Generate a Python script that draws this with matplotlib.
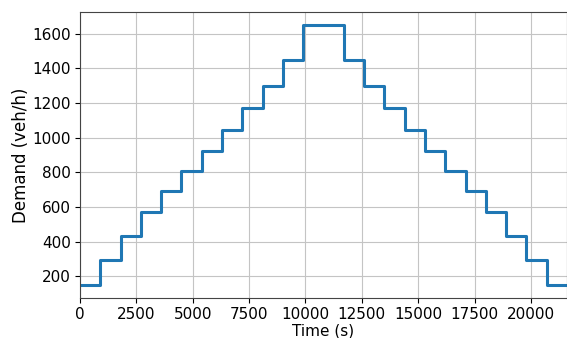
import matplotlib
matplotlib.use("Agg")
import matplotlib.pyplot as plt
import numpy as np

step_len = 900
demand = [150, 295, 435, 570, 692, 808, 925, 1045, 1170, 1300, 1450, 1650, 1650,
          1450, 1300, 1170, 1045, 925, 808, 692, 570, 435, 295, 150]
edges = np.arange(len(demand) + 1) * step_len
xticks = [0, 2500, 5000, 7500, 10000, 12500, 15000, 17500, 20000]
yticks = [200, 400, 600, 800, 1000, 1200, 1400, 1600]

fig = plt.figure(figsize=(5.67, 3.38), dpi=100)
ax = fig.add_axes([0.141, 0.118, 0.859, 0.846])
t = np.append(edges[:-1], edges[-1])
v = np.append(demand, demand[-1])
ax.step(t, v, where='post', color='#1f77b4', linewidth=2.2)
ax.set_xlim(0, edges[-1])
ax.set_ylim(75, 1725)
ax.set_xticks(xticks)
ax.set_yticks(yticks)
ax.tick_params(labelsize=11, pad=3)
ax.set_xlabel('Time (s)', fontsize=11, labelpad=1)
ax.set_ylabel('Demand (veh/h)', fontsize=12, labelpad=2)
ax.grid(True, color='#c4c4c4', linewidth=0.8)
ax.set_axisbelow(True)
for s in ax.spines.values():
    s.set_color('#444444')
fig.savefig('out.png', dpi=100)
